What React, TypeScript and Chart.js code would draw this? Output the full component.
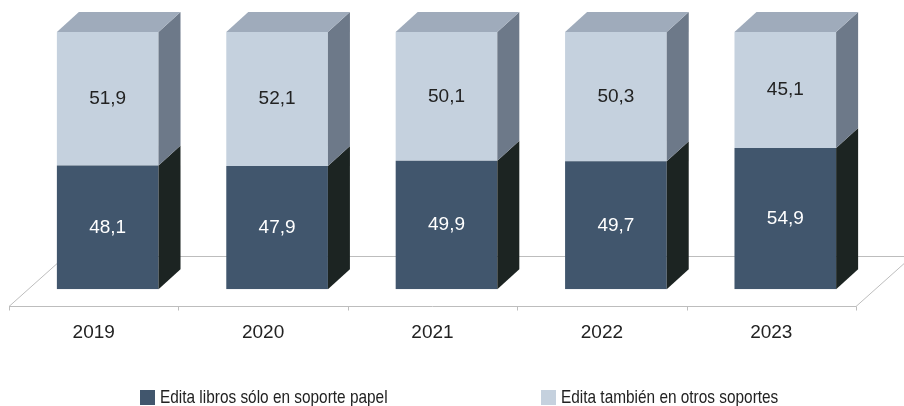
import React, { useEffect, useRef } from "react";
import { Chart, registerables } from "chart.js";

Chart.register(...registerables);

// ---- Data ----
const years = ["2019", "2020", "2021", "2022", "2023"];
const soloPapel = [48.1, 47.9, 49.9, 49.7, 54.9];
const otrosSoportes = [51.9, 52.1, 50.1, 50.3, 45.1];
const seriesNames = ["Edita libros sólo en soporte papel", "Edita también en otros soportes"];

// ---- Styles ----
const FRONT = ["#41566d", "#c5d1de"];
const SIDE = ["#1c2422", "#6d7989"];
const TOP = "#9fabbb";
const LABEL_COLORS = ["#ffffff", "#222222"];
const FLOOR = "#bdbdbd";
const SHIFT = 14; // front face shift relative to category center
const DX = 22;
const DY = 20;
const FONT = "'Liberation Sans', Arial, sans-serif";

const fmt = (v: number) => v.toFixed(1).replace(".", ",");

const bar3d = {
  id: "bar3d",
  beforeDatasetsDraw(chart: any) {
    const ctx = chart.ctx;
    const xs = chart.scales.x;
    const ys = chart.scales.y;
    const y0 = ys.getPixelForValue(0);
    const front = Math.round(y0 + 17) + 0.5;
    const back = Math.round(y0 - 33) + 0.5;
    const L = xs.left;
    const R = xs.right;
    const D = 56;
    ctx.save();
    ctx.strokeStyle = FLOOR;
    ctx.lineWidth = 1;
    ctx.beginPath();
    ctx.moveTo(L, front);
    ctx.lineTo(R, front);
    ctx.lineTo(R + D, back);
    ctx.lineTo(L + D, back);
    ctx.closePath();
    ctx.stroke();
    const n = chart.data.labels.length;
    ctx.beginPath();
    for (let i = 0; i <= n; i++) {
      let px: number;
      if (i === 0) px = L;
      else if (i === n) px = R;
      else px = (xs.getPixelForValue(i - 1) + xs.getPixelForValue(i)) / 2;
      px = Math.round(px) + 0.5;
      ctx.moveTo(px, front);
      ctx.lineTo(px, front + 4);
    }
    ctx.stroke();
    ctx.restore();
    ctx.save();
    ctx.translate(SHIFT, 0);
  },
  afterDatasetsDraw(chart: any) {
    const ctx = chart.ctx;
    const metas = chart.getSortedVisibleDatasetMetas();
    metas.forEach((meta: any, di: number) => {
      meta.data.forEach((bar: any) => {
        const { x, y, base, width } = bar.getProps(["x", "y", "base", "width"], true);
        const l = x - width / 2;
        const r = x + width / 2;
        ctx.fillStyle = SIDE[di];
        ctx.beginPath();
        ctx.moveTo(r, base);
        ctx.lineTo(r + DX, base - DY);
        ctx.lineTo(r + DX, y - DY);
        ctx.lineTo(r, y);
        ctx.closePath();
        ctx.fill();
        if (di === metas.length - 1) {
          ctx.fillStyle = TOP;
          ctx.beginPath();
          ctx.moveTo(l, y);
          ctx.lineTo(l + DX, y - DY);
          ctx.lineTo(r + DX, y - DY);
          ctx.lineTo(r, y);
          ctx.closePath();
          ctx.fill();
        }
      });
    });
    metas.forEach((meta: any, di: number) => {
      const values = chart.data.datasets[meta.index].data;
      meta.data.forEach((bar: any, i: number) => {
        const { x, y, base } = bar.getProps(["x", "y", "base"], true);
        ctx.fillStyle = LABEL_COLORS[di];
        ctx.font = `19px ${FONT}`;
        ctx.textAlign = "center";
        ctx.textBaseline = "middle";
        ctx.fillText(fmt(values[i]), x, (y + base) / 2);
      });
    });
    ctx.restore();
  },
  afterDraw(chart: any) {
    const ctx = chart.ctx;
    const yC = chart.height - 8.5;
    const xs = [140, 541];
    chart.data.datasets.forEach((ds: any, i: number) => {
      ctx.save();
      ctx.fillStyle = FRONT[i];
      ctx.fillRect(xs[i], yC - 7.5, 15, 15);
      ctx.translate(xs[i] + 20, yC);
      ctx.scale(0.81, 1);
      ctx.font = `19px ${FONT}`;
      ctx.textAlign = "left";
      ctx.textBaseline = "middle";
      ctx.fillStyle = "#222222";
      ctx.fillText(ds.label, 0, 0);
      ctx.restore();
    });
  },
};

export default function App() {
  const ref = useRef<HTMLCanvasElement | null>(null);
  useEffect(() => {
    if (!ref.current) return;
    const chart = new Chart(ref.current, {
      type: "bar",
      data: {
        labels: years,
        datasets: [
          { label: seriesNames[0], data: soloPapel, backgroundColor: FRONT[0], borderWidth: 0 },
          { label: seriesNames[1], data: otrosSoportes, backgroundColor: FRONT[1], borderWidth: 0 },
        ],
      },
      options: {
        responsive: false,
        animation: false,
        layout: { padding: { left: 9, right: 48, top: 32, bottom: 30 } },
        datasets: { bar: { categoryPercentage: 1, barPercentage: 0.6 } },
        plugins: { legend: { display: false }, tooltip: { enabled: false } },
        scales: {
          x: {
            stacked: true,
            grid: { display: false, drawTicks: false },
            border: { display: false },
            ticks: { padding: 32, color: "#222222", font: { size: 19, family: FONT } },
          },
          y: { stacked: true, display: false, min: 0, max: 100 },
        },
      },
      plugins: [bar3d],
    });
    return () => chart.destroy();
  }, []);
  return (
    <div style={{ position: "fixed", left: 0, top: 0, width: 904, height: 406, background: "#fff" }}>
      <canvas ref={ref} width={904} height={406} style={{ display: "block" }} />
    </div>
  );
}
